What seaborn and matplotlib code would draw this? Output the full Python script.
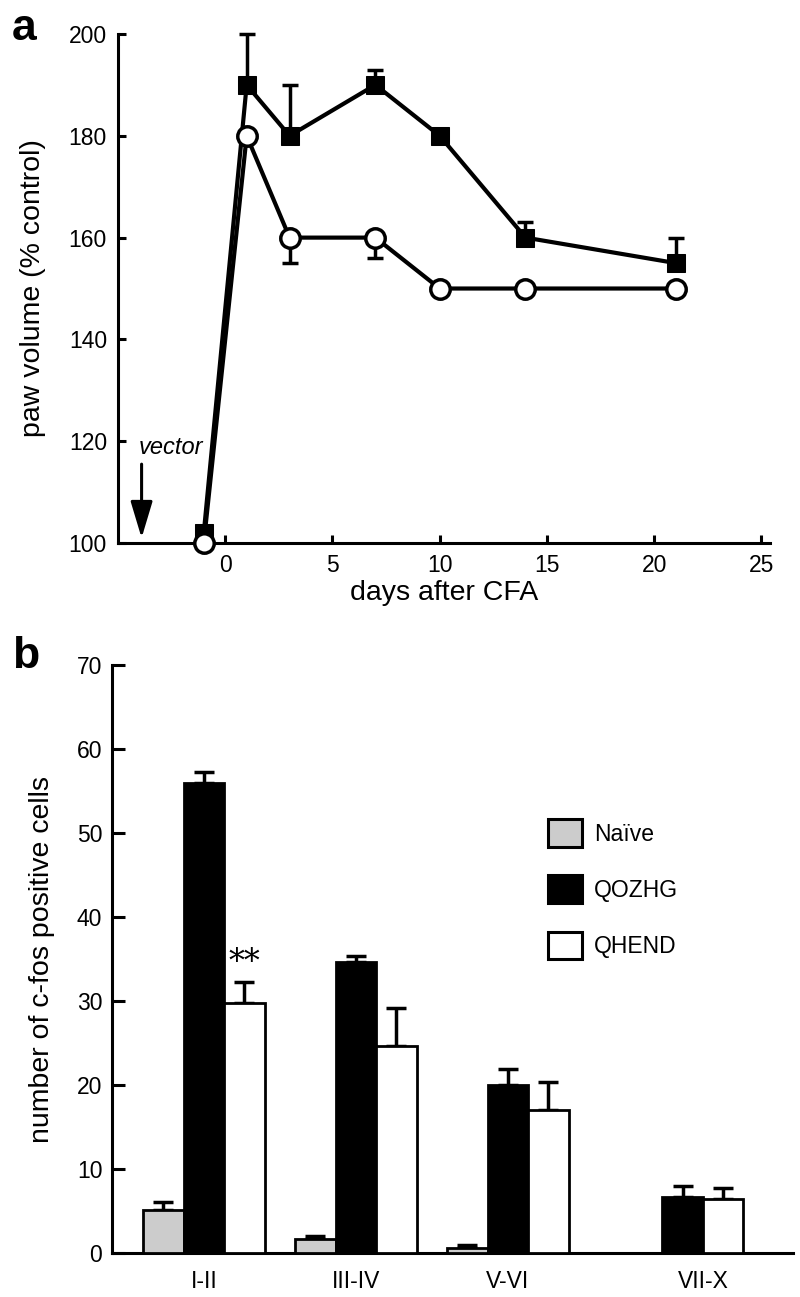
import matplotlib
matplotlib.use("Agg")
import matplotlib.pyplot as plt
import numpy as np
import pandas as pd
import seaborn as sns

# ---------------------------------------------------------------------------
# Data
# ---------------------------------------------------------------------------

# panel a: paw volume after CFA
days = [-1, 1, 3, 7, 10, 14, 21]
qozhg_vol = [102, 190, 180, 190, 180, 160, 155]
qozhg_vol_err = [0, 10, 10, 3, 0, 3, 5]       # upward
qhend_vol = [100, 180, 160, 160, 150, 150, 150]
qhend_vol_err = [0, 0, 5, 4, 0, 0, 0]         # downward

# panel b: c-fos positive cells per laminae
regions = ["I-II", "III-IV", "V-VI", "VII-X"]
groups = ["Naïve", "QOZHG", "QHEND"]
naive_cells = [5.1, 1.7, 0.6, np.nan]
naive_cells_err = [1.0, 0.3, 0.3, np.nan]
qozhg_cells = [56.0, 34.7, 20.0, 6.7]
qozhg_cells_err = [1.3, 0.6, 1.9, 1.3]
qhend_cells = [29.8, 24.7, 17.0, 6.4]
qhend_cells_err = [2.5, 4.5, 3.3, 1.3]

# layout: VII-X group sits a bit further right
region_pos = [0, 1, 2, 3.15]
BAR_WIDTH = 0.8

COLORS = {"Naïve": "#cccccc", "QOZHG": "black", "QHEND": "white"}

# ---------------------------------------------------------------------------
# Style
# ---------------------------------------------------------------------------

sns.set_style("ticks")
plt.rcParams["font.family"] = ["Liberation Sans", "DejaVu Sans"]
plt.rcParams.update({
    "axes.linewidth": 2.2,
    "axes.edgecolor": "black",
    "axes.labelcolor": "black",
    "text.color": "black",
    "xtick.color": "black",
    "ytick.color": "black",
})

fig = plt.figure(figsize=(8, 12.97), dpi=100)
ax1 = fig.add_axes([0.1475, 0.5813, 0.815, 0.3925])
ax2 = fig.add_axes([0.14, 0.0339, 0.851, 0.4534])

# ---------------------------------------------------------------------------
# a. paw volume time course
# ---------------------------------------------------------------------------

sns.lineplot(x=days, y=qozhg_vol, ax=ax1, color="black", linewidth=3,
             marker="s", markersize=13, markeredgecolor="black",
             markerfacecolor="black", clip_on=False, zorder=3)
sns.lineplot(x=days, y=qhend_vol, ax=ax1, color="black", linewidth=3,
             marker="o", markersize=14, markeredgecolor="black",
             markerfacecolor="white", markeredgewidth=2.5,
             clip_on=False, zorder=4)

d = np.array(days)
up = np.array(qozhg_vol_err)
m = up > 0
ax1.errorbar(d[m], np.array(qozhg_vol)[m], yerr=[np.zeros(m.sum()), up[m]],
             fmt="none", ecolor="black", elinewidth=2.5, capsize=6,
             capthick=2.5, clip_on=False, zorder=2)
dn = np.array(qhend_vol_err)
m = dn > 0
ax1.errorbar(d[m], np.array(qhend_vol)[m], yerr=[dn[m], np.zeros(m.sum())],
             fmt="none", ecolor="black", elinewidth=2.5, capsize=6,
             capthick=2.5, clip_on=False, zorder=2)

ax1.annotate("", xy=(-3.9, 101.0), xytext=(-3.9, 115.5),
             arrowprops=dict(arrowstyle="-|>,head_width=0.45,head_length=1.5",
                             mutation_scale=15, color="black", lw=2.2,
                             shrinkA=0, shrinkB=0))
ax1.text(-4.05, 116.5, "vector", fontsize=17, style="italic",
         ha="left", va="bottom")

ax1.set_xlim(-5, 25.4)
ax1.set_ylim(100, 200)
ax1.set_xticks([0, 5, 10, 15, 20, 25])
ax1.set_yticks([100, 120, 140, 160, 180, 200])
ax1.tick_params(direction="in", length=6, width=2.2, labelsize=16.5, pad=8)
ax1.set_xlabel("days after CFA", fontsize=20.5, labelpad=2)
ax1.set_ylabel("paw volume (% control)", fontsize=20.5, labelpad=16)
sns.despine(ax=ax1)

# ---------------------------------------------------------------------------
# b. c-fos positive cells
# ---------------------------------------------------------------------------

df = pd.DataFrame({
    "pos": np.tile(region_pos, len(groups)),
    "group": np.repeat(groups, len(regions)),
    "cells": naive_cells + qozhg_cells + qhend_cells,
    "err": naive_cells_err + qozhg_cells_err + qhend_cells_err,
}).dropna()

sns.barplot(data=df, x="pos", y="cells", hue="group", hue_order=groups,
            palette=COLORS, native_scale=True, width=BAR_WIDTH,
            edgecolor="black", linewidth=2, errorbar=None, ax=ax2,
            zorder=3)

# upward error bars, dodged like the bars
bw = BAR_WIDTH / len(groups)
for i, g in enumerate(groups):
    sub = df[df["group"] == g]
    ax2.errorbar(sub["pos"] + (i - 1) * bw, sub["cells"],
                 yerr=[np.zeros(len(sub)), sub["err"]], fmt="none",
                 ecolor="black", elinewidth=2.5, capsize=7, capthick=2.5,
                 zorder=2)

# significance mark over QHEND I-II
q = df[(df["group"] == "QHEND")].iloc[0]
ax2.text(q["pos"] + bw, q["cells"] + q["err"] + 0.4, "**", ha="center",
         va="bottom", fontsize=23, family="DejaVu Serif")

# tick label centred on the bars present in each region
tick_x = []
for p in region_pos:
    present = df[df["pos"] == p]
    offs = [(groups.index(g) - 1) * bw for g in present["group"]]
    tick_x.append(p + np.mean(offs))
ax2.set_xticks(tick_x)
ax2.set_xticklabels(regions)
ax2.set_xlim(-0.605, 3.875)
ax2.set_ylim(0, 70)
ax2.set_yticks(range(0, 71, 10))
ax2.tick_params(axis="y", direction="in", length=9, width=2.2,
                labelsize=16.5, pad=7)
ax2.tick_params(axis="x", length=0, labelsize=16.5, pad=12)
ax2.set_xlabel("")
ax2.set_ylabel("number of c-fos positive cells", fontsize=20.5, labelpad=16)
sns.despine(ax=ax2)

sns.move_legend(ax2, loc="upper left", bbox_to_anchor=(0.624, 0.757),
                frameon=False, title=None, fontsize=16.5, borderpad=0,
                handlelength=1.45, handleheight=1.45, labelspacing=1.26,
                handletextpad=0.55)
for h in ax2.get_legend().get_patches():
    h.set_edgecolor("black")
    h.set_linewidth(2.2)

fig.text(0.015, 0.9935, "a", fontsize=32, fontweight="bold", va="top")
fig.text(0.015, 0.5095, "b", fontsize=32, fontweight="bold", va="top")

fig.savefig("out.png", dpi=100)
